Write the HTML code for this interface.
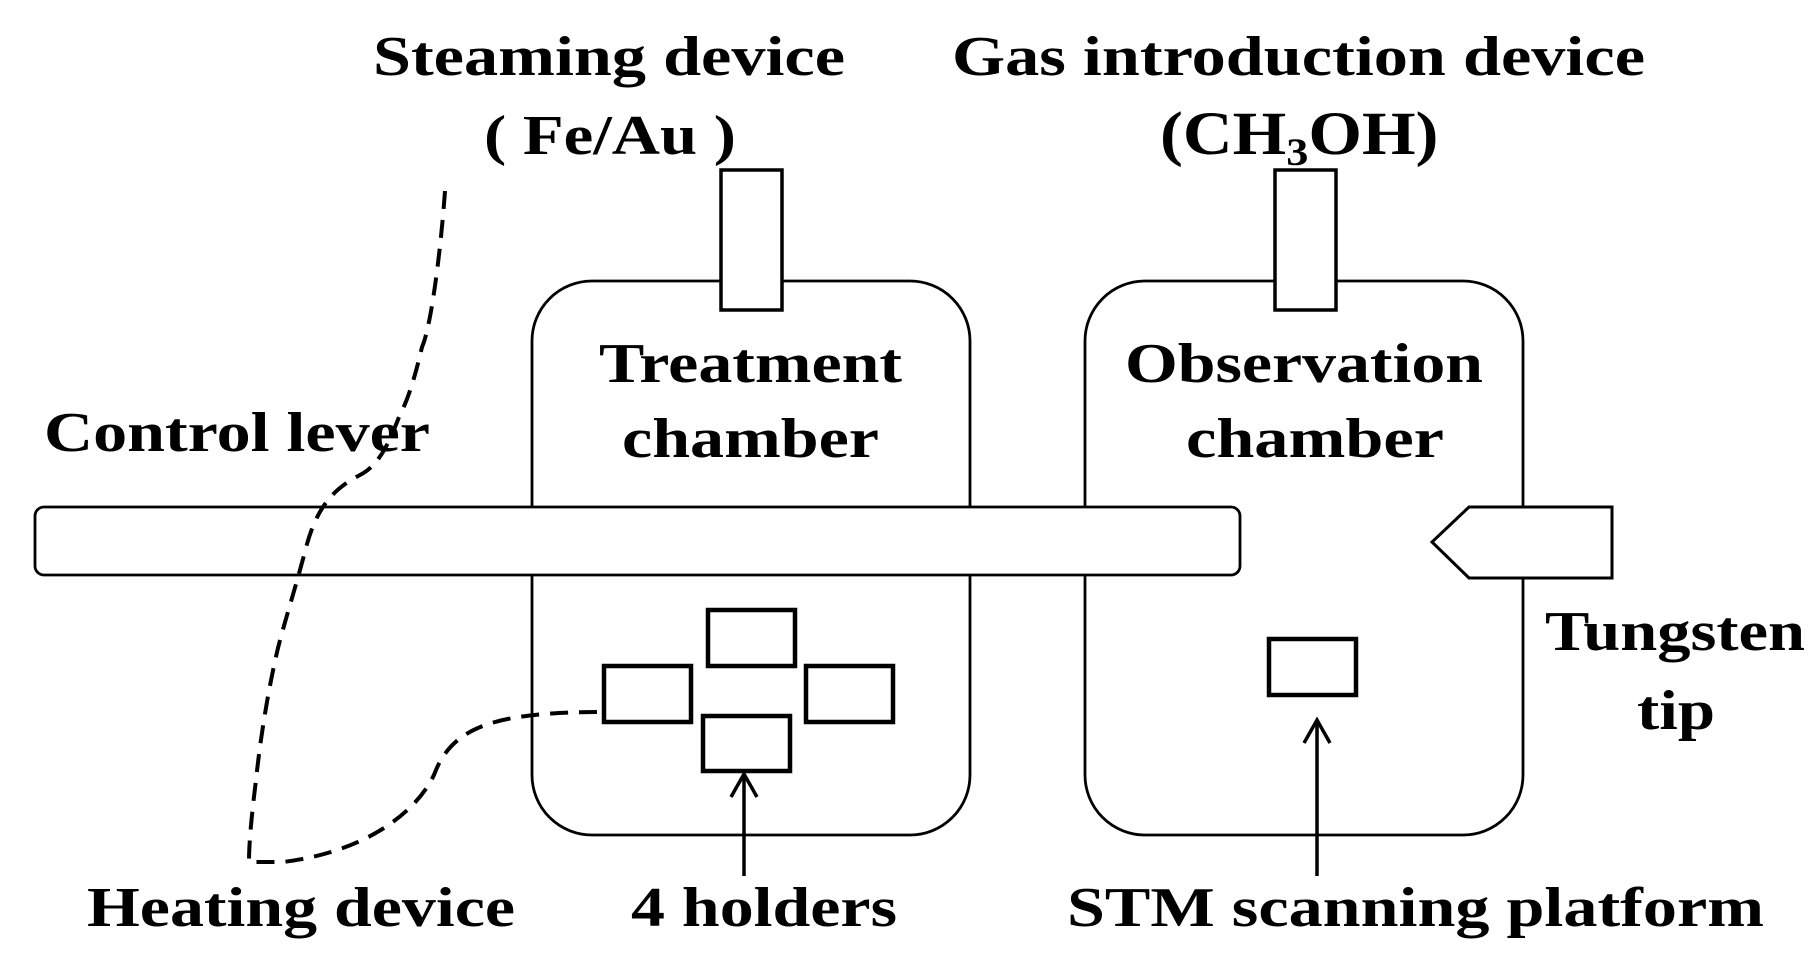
<!DOCTYPE html>
<html><head><style>html,body{margin:0;padding:0;background:#fff}svg{display:block}</style></head>
<body>
<svg width="1814" height="958" viewBox="0 0 1814 958" xmlns="http://www.w3.org/2000/svg">
<g fill="#fff" stroke="#000" stroke-width="2.8">
<rect x="532" y="281" width="438" height="554" rx="60"/>
<rect x="1085" y="281" width="438" height="554" rx="60"/>
<rect x="721" y="170" width="61" height="140" stroke-width="3.5"/>
<rect x="1275" y="170" width="61" height="140" stroke-width="3.5"/>
<rect x="35" y="507" width="1205" height="68" rx="9"/>
<polygon points="1612,507 1469,507 1432,542 1469,578 1612,578" stroke-width="3"/>
</g>
<g fill="none" stroke="#000" stroke-width="4.5">
<rect x="708" y="610" width="87" height="56"/>
<rect x="604" y="666" width="87" height="56"/>
<rect x="806" y="666" width="87" height="56"/>
<rect x="703" y="716" width="87" height="55"/>
<rect x="1269" y="639" width="87" height="56"/>
</g>
<g fill="none" stroke="#000" stroke-width="3.5">
<line x1="744" y1="876" x2="744" y2="774"/>
<polyline points="731,797 744,774 757,797"/>
<line x1="1317" y1="876" x2="1317" y2="720"/>
<polyline points="1304,743 1317,720 1330,743"/>
</g>
<g fill="none" stroke="#000" stroke-width="4" stroke-dasharray="18 11">
<path d="M445,191 C440,260 430,330 422,347 C412,390 405,405 399,417 C390,440 380,465 360,475 C335,488 318,505 307,544 C295,590 285,620 278,648 C268,690 260,741 256,780 C251,820 249,845 249,862 L283,862 C380,850 425,800 436,770 C455,725 500,712 604,712"/>
</g>
<g font-family="'Liberation Serif', serif" font-weight="bold" font-size="56" fill="#000">
<text x="373" y="75" textLength="472" lengthAdjust="spacingAndGlyphs">Steaming device</text>
<text x="484" y="154" textLength="252" lengthAdjust="spacingAndGlyphs">( Fe/Au )</text>
<text x="952" y="75" textLength="693" lengthAdjust="spacingAndGlyphs">Gas introduction device</text>
<g transform="translate(1160,154) scale(1.23,1.1)"><text x="0" y="0">(CH<tspan font-size="36" dy="10">3</tspan><tspan dy="-10">OH)</tspan></text></g>
<text x="599" y="382" textLength="303" lengthAdjust="spacingAndGlyphs">Treatment</text>
<text x="622" y="457" textLength="257" lengthAdjust="spacingAndGlyphs">chamber</text>
<text x="1125" y="382" textLength="358" lengthAdjust="spacingAndGlyphs">Observation</text>
<text x="1186" y="457" textLength="258" lengthAdjust="spacingAndGlyphs">chamber</text>
<text x="44" y="451" textLength="386" lengthAdjust="spacingAndGlyphs">Control lever</text>
<text x="1545" y="650" textLength="260" lengthAdjust="spacingAndGlyphs">Tungsten</text>
<text x="1637" y="729" textLength="78" lengthAdjust="spacingAndGlyphs">tip</text>
<text x="87" y="926" textLength="428" lengthAdjust="spacingAndGlyphs">Heating device</text>
<text x="631" y="926" textLength="266" lengthAdjust="spacingAndGlyphs">4 holders</text>
<text x="1067" y="926" textLength="697" lengthAdjust="spacingAndGlyphs">STM scanning platform</text>
</g>
</svg>
</body></html>
